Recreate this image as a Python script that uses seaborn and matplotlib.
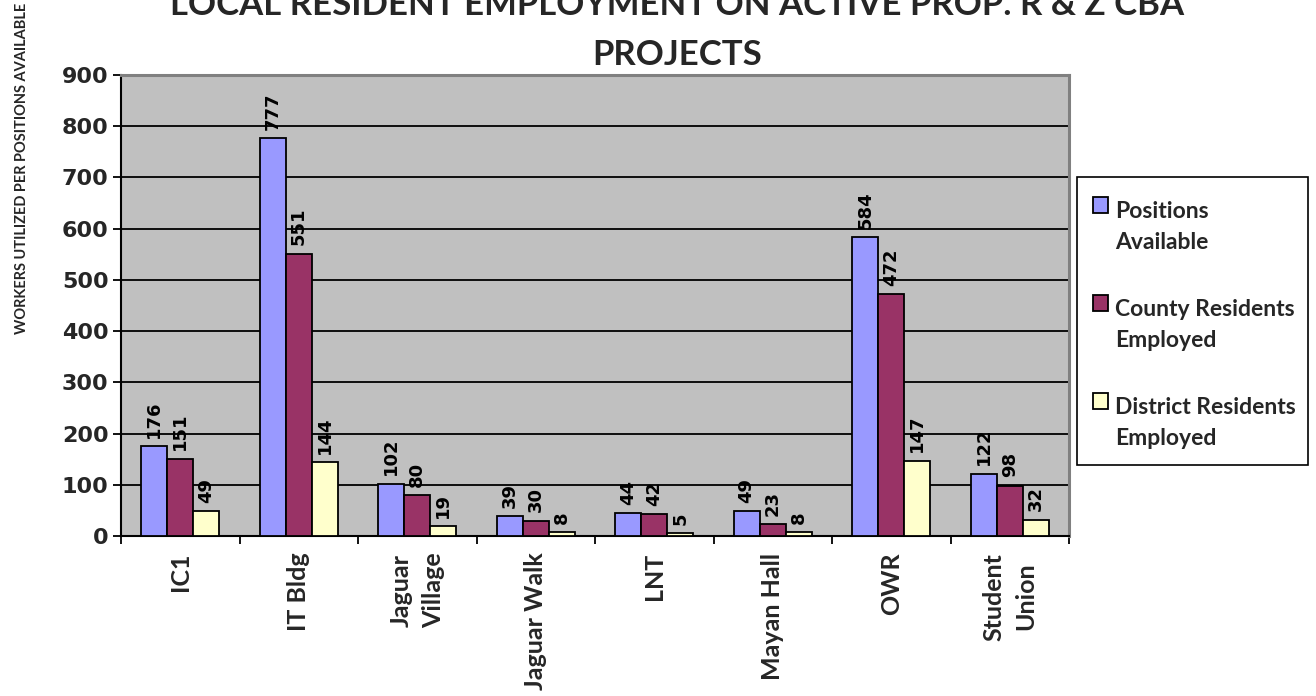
import numpy as np
import pandas as pd
import matplotlib
matplotlib.use("Agg")
import matplotlib.pyplot as plt
import seaborn as sns
from matplotlib.patches import Rectangle
from matplotlib.legend_handler import HandlerPatch
from matplotlib.ticker import FixedLocator

# ---- data -------------------------------------------------------------
projects = ["IC1", "IT Bldg", "Jaguar\nVillage", "Jaguar Walk", "LNT",
            "Mayan Hall", "OWR", "Student\nUnion"]
positions_available = [176, 777, 102, 39, 44, 49, 584, 122]
county_employed = [151, 551, 80, 30, 42, 23, 472, 98]
district_employed = [49, 144, 19, 8, 5, 8, 147, 32]
series_names = ["Positions\nAvailable",
                "County Residents\nEmployed",
                "District Residents\nEmployed"]
series_colors = ["#9999FF", "#993366", "#FFFFCC"]
y_ticks = [0, 100, 200, 300, 400, 500, 600, 700, 800, 900]

df = pd.DataFrame({
    "project": projects * 3,
    "series": np.repeat(series_names, len(projects)),
    "workers": positions_available + county_employed + district_employed,
})

# ---- styling ----------------------------------------------------------
sns.set_theme(style="white")
plt.rcParams["font.family"] = ["DejaVu Sans"]

W, H = 1316, 696
fig = plt.figure(figsize=(W / 100, H / 100), dpi=100)
ax = fig.add_axes([121 / W, 160 / H, 948 / W, 461 / H])
ax.set_facecolor("#C0C0C0")

sns.barplot(data=df, x="project", y="workers", hue="series",
            palette=series_colors, saturation=1, width=0.66,
            edgecolor="black", linewidth=1.3, legend=False, ax=ax, zorder=3)

for container in ax.containers:
    ax.bar_label(container, rotation=90, padding=6, fontsize=13,
                 fontweight="bold", family="DejaVu Sans", color="black")

ax.set_xlim(-0.5, len(projects) - 0.5)
ax.set_ylim(0, 900)
ax.set_yticks(y_ticks)
ax.yaxis.grid(True, color="black", linewidth=1.3, zorder=1)
ax.set_axisbelow(True)
ax.set_xlabel("")
ax.set_ylabel("")

for side in ("left", "bottom"):
    ax.spines[side].set_color("black")
    ax.spines[side].set_linewidth(1.5)
for side in ("top", "right"):
    ax.spines[side].set_color("#808080")
    ax.spines[side].set_linewidth(2.2)

ax.tick_params(axis="y", which="major", left=True, length=6, width=1.3,
               color="black", direction="out", pad=3, labelsize=16)
for lbl in ax.get_yticklabels():
    lbl.set_fontweight("bold")

# category separators as minor ticks, labels on unmarked major ticks
ax.xaxis.set_minor_locator(FixedLocator(np.arange(-0.5, len(projects), 1)))
ax.tick_params(axis="x", which="minor", bottom=True, length=6, width=1.3,
               color="black", direction="out")
ax.tick_params(axis="x", which="major", bottom=True, length=0, pad=12,
               labelsize=18, labelrotation=90)
for lbl in ax.get_xticklabels():
    lbl.set_fontfamily("Lato")
    lbl.set_fontweight("bold")
    lbl.set_multialignment("center")
    lbl.set_linespacing(1.5)

# ---- titles -----------------------------------------------------------
fig.text(677 / W, 1 - 65 / H,
         "LOCAL RESIDENT EMPLOYMENT ON ACTIVE PROP. R & Z CBA\nPROJECTS",
         ha="center", va="baseline", multialignment="center",
         fontsize=25, fontweight="bold", family="Lato", linespacing=1.7)
fig.text(22 / W, 1 - 168 / H, "WORKERS UTILIZED PER POSITIONS AVAILABLE",
         rotation=90, ha="center", va="center", fontsize=10.5,
         fontweight="bold", family="Lato")

# ---- legend -----------------------------------------------------------
LEG_FS = 16.5


def square_on_first_line(legend, orig_handle, xdescent, ydescent,
                         width, height, fontsize):
    side = 0.66 * fontsize
    return Rectangle((-xdescent + (width - side) / 2, 1.0 * fontsize),
                     side, side)


handles = [Rectangle((0, 0), 1, 1, facecolor=c, edgecolor="black",
                     linewidth=1.3) for c in series_colors]
leg = fig.legend(handles, series_names, loc="center",
                 bbox_to_anchor=(1193 / W, 1 - 325 / H),
                 handler_map={Rectangle: HandlerPatch(patch_func=square_on_first_line)},
                 prop={"family": "Lato", "weight": "bold", "size": LEG_FS},
                 frameon=False, labelspacing=2.0, handlelength=0.9,
                 handletextpad=0.2, borderpad=0.35)
for t in leg.get_texts():
    t.set_linespacing(1.6)

# legend border box
fig.add_artist(Rectangle((1077 / W, 1 - 465 / H), 231 / W, 288 / H,
                         transform=fig.transFigure, fill=False,
                         edgecolor="black", linewidth=1.2))

fig.savefig("out.png", dpi=100, facecolor="white")
